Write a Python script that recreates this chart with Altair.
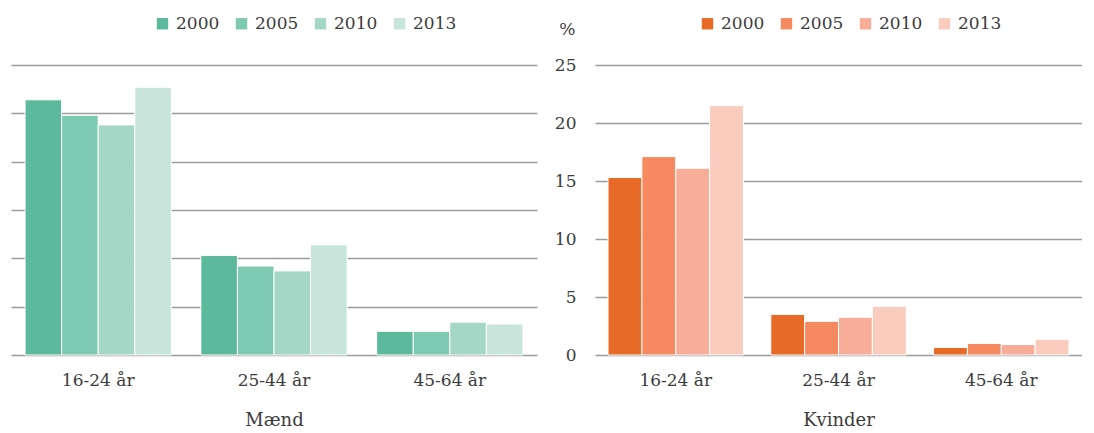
import altair as alt
import pandas as pd

ages = ["16-24 år", "25-44 år", "45-64 år"]
years = ["2000", "2005", "2010", "2013"]

# Mænd (hidden 0-30 scale)
m_2000 = [26.4, 10.3, 2.45]
m_2005 = [24.8, 9.2, 2.45]
m_2010 = [23.8, 8.7, 3.4]
m_2013 = [27.7, 11.4, 3.2]

# Kvinder (%)
k_2000 = [15.3, 3.5, 0.65]
k_2005 = [17.1, 2.9, 1.0]
k_2010 = [16.1, 3.25, 0.9]
k_2013 = [21.5, 4.2, 1.35]

green = ["#5cb99c", "#7ec9b1", "#a4d7c6", "#c7e5da"]
orange = ["#e76b26", "#f5895f", "#f7ad98", "#f9ccbe"]

FONT = "DejaVu Serif"
TXT = "#3c3c3c"
GRID = "#9c9c9f"


def frame(series):
    rows = []
    for yr, vals in zip(years, series):
        for a, v in zip(ages, vals):
            rows.append({"age": a, "year": yr, "value": v})
    return pd.DataFrame(rows)


df_m = frame([m_2000, m_2005, m_2010, m_2013])
df_k = frame([k_2000, k_2005, k_2010, k_2013])


def panel(df, colors, title, ymax, width, legend_x, show_y):
    if show_y:
        yaxis = alt.Axis(
            values=list(range(0, ymax + 1, 5)), title="%", titleAngle=0,
            titleAlign="right", titleBaseline="middle", titleX=-20, titleY=-36,
            titleFont=FONT, titleFontSize=17, titleFontWeight="normal", titleColor=TXT,
            labelFont=FONT, labelFontSize=17, labelColor=TXT, labelPadding=19,
            ticks=False, domain=False, grid=True, gridColor=GRID, gridWidth=1.6,
        )
    else:
        yaxis = alt.Axis(
            values=list(range(0, ymax + 1, 5)), title=None, labels=False,
            ticks=False, domain=False, grid=True, gridColor=GRID, gridWidth=1.6,
        )
    return alt.Chart(df).mark_bar(stroke="white", strokeWidth=1).encode(
        x=alt.X(
            "age:N", sort=ages,
            scale=alt.Scale(paddingInner=0.168, paddingOuter=0.08),
            axis=alt.Axis(
                title=title, titleFont=FONT, titleFontSize=18, titleFontWeight="normal",
                titleColor=TXT, titlePadding=23, labelFont=FONT, labelFontSize=17,
                labelColor=TXT, labelPadding=17, labelAngle=0, ticks=False, domain=False,
                grid=False,
            ),
        ),
        xOffset=alt.XOffset("year:N", sort=years, scale=alt.Scale(paddingInner=0, paddingOuter=0)),
        y=alt.Y("value:Q", scale=alt.Scale(domain=[0, ymax], nice=False), axis=yaxis),
        color=alt.Color(
            "year:N", sort=years,
            scale=alt.Scale(domain=years, range=colors),
            legend=alt.Legend(
                title=None, orient="none", direction="horizontal",
                legendX=legend_x, legendY=-50, symbolType="square", symbolSize=130,
                symbolStrokeWidth=0, symbolOpacity=1, labelFont=FONT, labelFontSize=17,
                labelColor=TXT, labelOffset=5, columnPadding=13,
            ),
        ),
    ).properties(
        width=width, height=290,
        view=alt.ViewBackground(strokeOpacity=0, strokeWidth=0),
    )


left = panel(df_m, green, "Mænd", 30, 526, 143, False)
right = panel(df_k, orange, "Kvinder", 25, 487, 104, True)

chart = (
    alt.hconcat(left, right, spacing=17)
    .resolve_scale(color="independent", y="independent", x="independent", xOffset="independent")
    .resolve_legend(color="independent")
    .properties(padding={"left": 3, "top": 7, "right": 0, "bottom": 0})
    .configure_view(strokeWidth=0, stroke="transparent")
    .configure_axis(domain=False, ticks=False)
    .configure(font=FONT)
)

chart.save("out.html", embed_options={"renderer": "svg", "actions": False})
